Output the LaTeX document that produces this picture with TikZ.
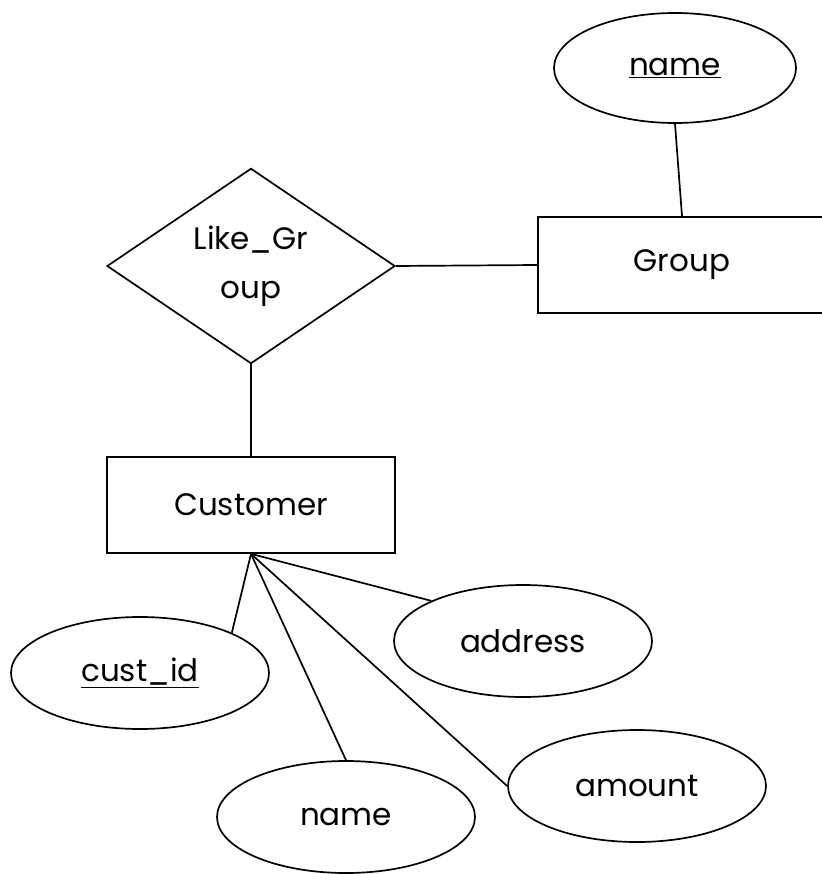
\documentclass[tikz,border=0pt]{standalone}
\usepackage{fontspec}
\setmainfont{Poppins}
\usetikzlibrary{shapes.geometric}

\begin{document}
\begin{tikzpicture}[x=1pt, y=-1pt, line width=1.7pt,
    entity/.style={draw, rectangle, minimum width=288, minimum height=96},
    attrib/.style={draw, ellipse, minimum width=258, minimum height=112, inner sep=0pt},
    relation/.style={draw, diamond, minimum width=288, minimum height=193, inner sep=0pt, align=center},
    every node/.style={font=\fontsize{31}{49}\selectfont}]
  \useasboundingbox (0, 0) rectangle (821, 874);

  \node [entity] (group) at (682, 265) {Group};
  \node [attrib, minimum width=242, minimum height=110] (gname) at (675, 68) {\underline{name}};
  \node [relation] (like) at (251, 266) {Like\_Gr\\oup};
  \node [entity] (cust) at (251, 505) {Customer};

  \node [attrib] (cid) at (140, 673) {\underline{cust\_id}};
  \node [attrib] (cname) at (346, 817) {name};
  \node [attrib] (addr) at (523, 641) {address};
  \node [attrib] (amt) at (637, 786) {amount};

  \draw (gname.south) -- (group.north);
  \draw (like.east) -- (group.west);
  \draw (like.south) -- (cust.north);

  \foreach \a/\p in {cid/north east, cname/north, addr/north west, amt/west} {
    \draw (cust.south) -- (\a.\p);
  }
\end{tikzpicture}
\end{document}
